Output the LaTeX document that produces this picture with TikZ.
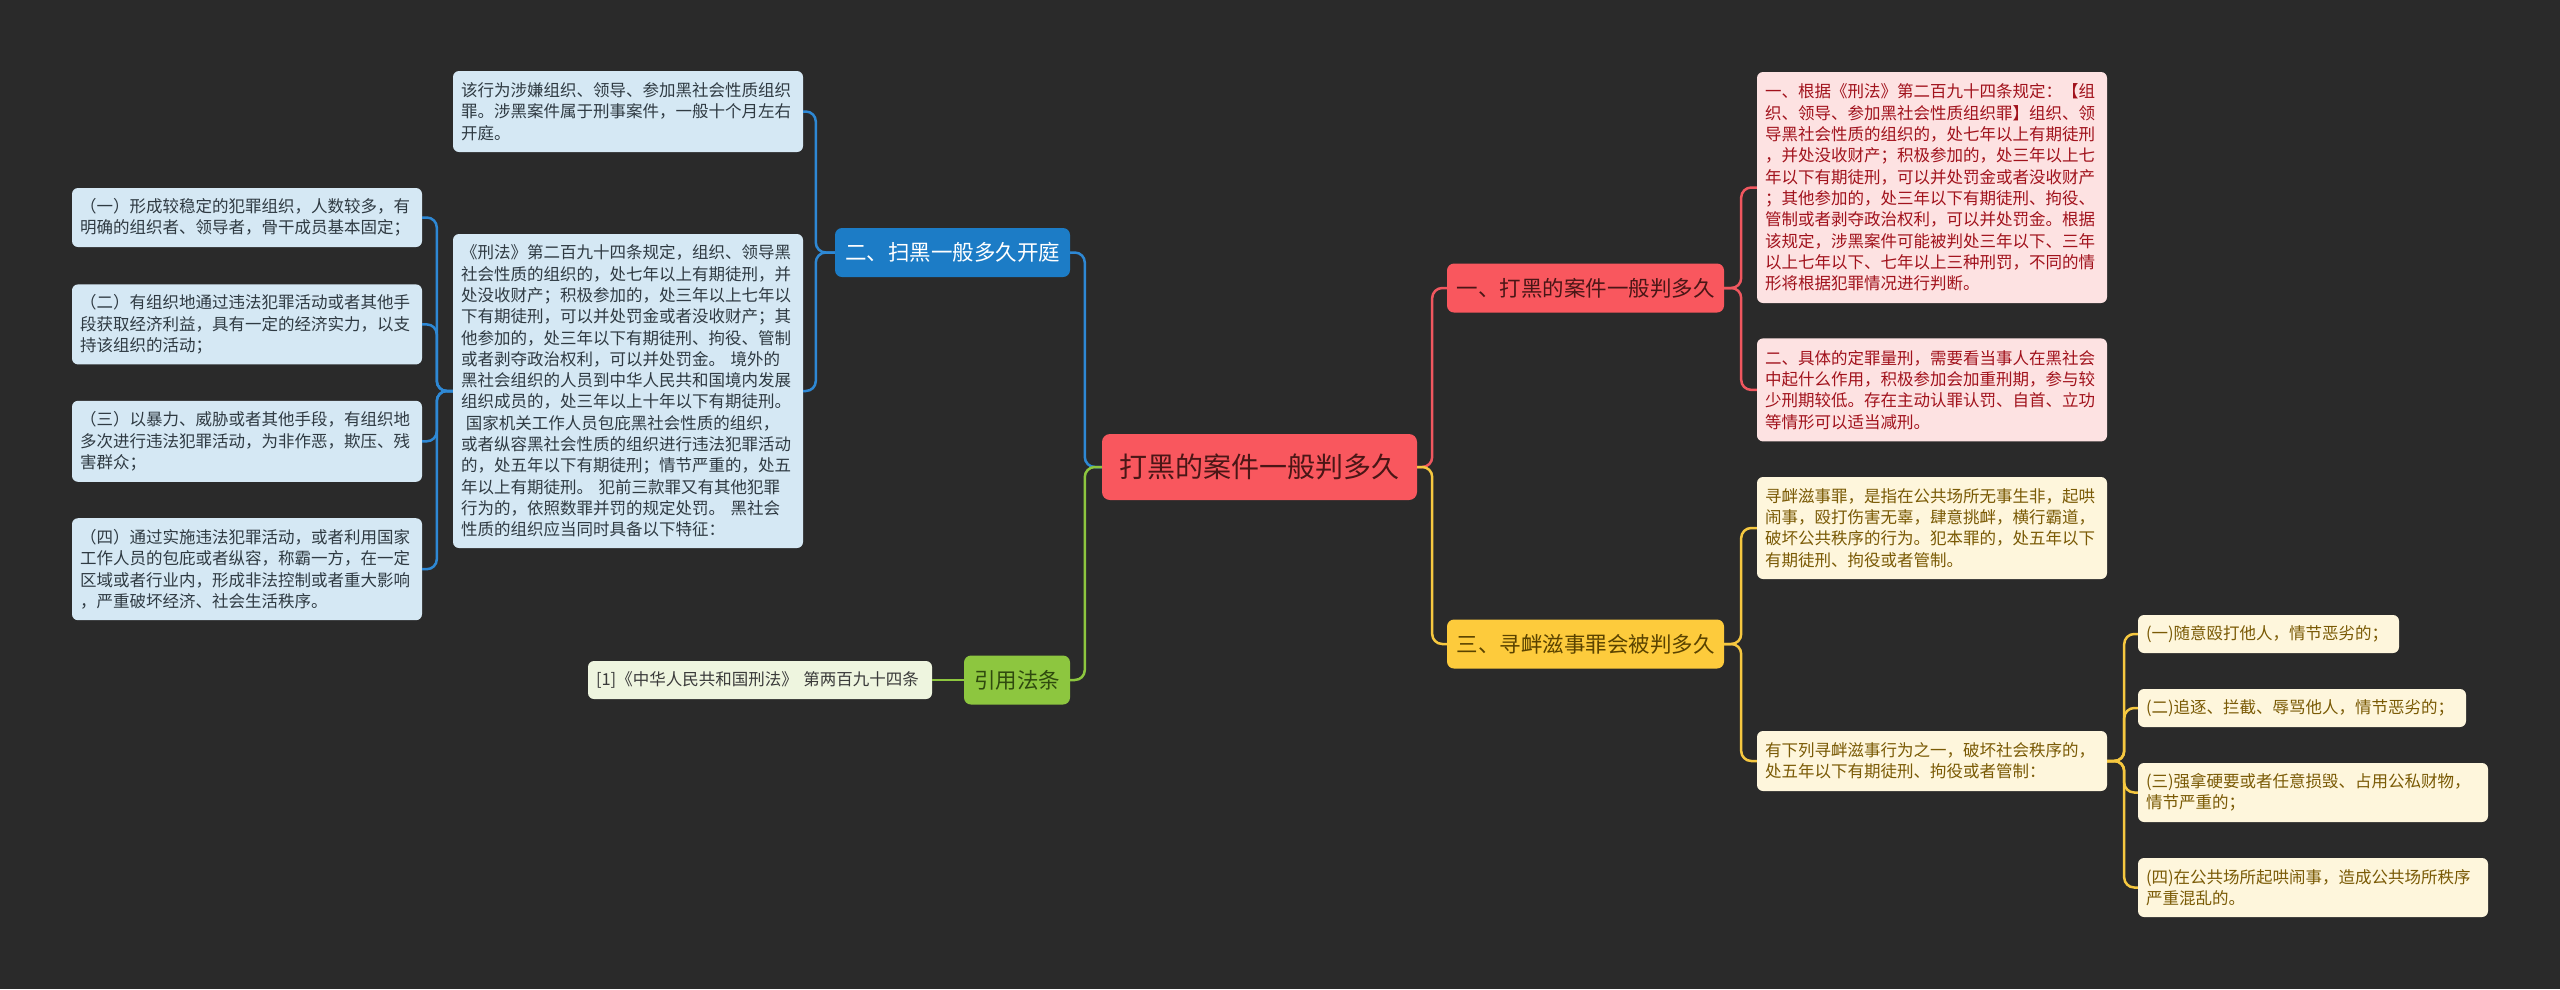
\documentclass[tikz,border=0pt]{standalone}
\usepackage{fontspec}
\setmainfont{Noto Sans CJK SC}
\usepackage{tikz}
\usetikzlibrary{positioning}
\definecolor{bgdark}{HTML}{2A2A2A}
\definecolor{rootred}{HTML}{F9575E}
\definecolor{rootink}{HTML}{4A1616}
\definecolor{pinkleaf}{HTML}{FDE2E2}
\definecolor{pinkink}{HTML}{A1121C}
\definecolor{bluebranch}{HTML}{1C7CC6}
\definecolor{blueleaf}{HTML}{D5E8F4}
\definecolor{blueink}{HTML}{2F3A42}
\definecolor{greenbranch}{HTML}{8DC63F}
\definecolor{greenink}{HTML}{2F4A0E}
\definecolor{citeleaf}{HTML}{EEF5DF}
\definecolor{citeink}{HTML}{3A3A3A}
\definecolor{yellowbranch}{HTML}{FDCB3C}
\definecolor{yellowink}{HTML}{5A4300}
\definecolor{yellowleaf}{HTML}{FEF6DC}
\definecolor{yleafink}{HTML}{7A5A05}
\definecolor{bluelink}{HTML}{2E88D4}
\definecolor{greenlink}{HTML}{8DC63F}
\definecolor{redlink}{HTML}{F0575F}
\definecolor{yellowlink}{HTML}{F6C840}
\tikzset{
  rootbox/.style={fill=rootred, text=rootink, rounded corners=8pt, inner sep=0pt,
    minimum width=315pt, minimum height=66pt, font=\fontsize{28}{34}\selectfont},
  branch/.style={rounded corners=7pt, inner sep=0pt, minimum height=49pt,
    font=\fontsize{21.5}{26}\selectfont},
  leaf/.style={rounded corners=6pt, align=left, inner xsep=8pt, inner ysep=8pt,
    text width=334pt, font=\fontsize{16.5}{21.3}\selectfont},
  blueleafbox/.style={leaf, fill=blueleaf, text=blueink},
  pinkleafbox/.style={leaf, fill=pinkleaf, text=pinkink},
  yellowleafbox/.style={leaf, fill=yellowleaf, text=yleafink},
  link/.style={line width=2.5pt, rounded corners=10pt},
}

\begin{document}
\begin{tikzpicture}[x=1pt, y=-1pt]

\fill[bgdark] (0,0) rectangle (2560,989);
\useasboundingbox (0,0) rectangle (2560,989);

%% centre and main branches
\node[rootbox] (root) at (1259.5,467) {打黑的案件一般判多久};
\node[branch, fill=bluebranch, text=white, minimum width=235pt] (sao) at (952.5,252.5) {二、扫黑一般多久开庭};
\node[branch, fill=greenbranch, text=greenink, minimum width=106pt] (yin) at (1017,680) {引用法条};
\node[branch, fill=rootred, text=rootink, minimum width=277pt] (da) at (1585.5,288) {一、打黑的案件一般判多久};
\node[branch, fill=yellowbranch, text=yellowink, minimum width=277pt] (xun) at (1585.5,644) {三、寻衅滋事罪会被判多久};

%% left side: 扫黑开庭
\node[blueleafbox, minimum height=81pt] (sao1) at (628,111.5) {该行为涉嫌组织、领导、参加黑社会性质组织\\罪。涉黑案件属于刑事案件，一般十个月左右\\开庭。};
\node[blueleafbox, minimum height=314pt] (sao2) at (628,391) {《刑法》第二百九十四条规定，组织、领导黑\\社会性质的组织的，处七年以上有期徒刑，并\\处没收财产；积极参加的，处三年以上七年以\\下有期徒刑，可以并处罚金或者没收财产；其\\他参加的，处三年以下有期徒刑、拘役、管制\\或者剥夺政治权利，可以并处罚金。 境外的\\黑社会组织的人员到中华人民共和国境内发展\\组织成员的，处三年以上十年以下有期徒刑。\\\hspace*{0.3em}国家机关工作人员包庇黑社会性质的组织，\\或者纵容黑社会性质的组织进行违法犯罪活动\\的，处五年以下有期徒刑；情节严重的，处五\\年以上有期徒刑。 犯前三款罪又有其他犯罪\\行为的，依照数罪并罚的规定处罚。 黑社会\\性质的组织应当同时具备以下特征：};

\node[blueleafbox, minimum height=59pt] (te1) at (247,217.5) {（一）形成较稳定的犯罪组织，人数较多，有\\明确的组织者、领导者，骨干成员基本固定；};
\node[blueleafbox, minimum height=80pt, below=37pt of te1] (te2) {（二）有组织地通过违法犯罪活动或者其他手\\段获取经济利益，具有一定的经济实力，以支\\持该组织的活动；};
\node[blueleafbox, minimum height=81pt, below=36pt of te2] (te3) {（三）以暴力、威胁或者其他手段，有组织地\\多次进行违法犯罪活动，为非作恶，欺压、残\\害群众；};
\node[blueleafbox, minimum height=102pt, below=36pt of te3] (te4) {（四）通过实施违法犯罪活动，或者利用国家\\工作人员的包庇或者纵容，称霸一方，在一定\\区域或者行业内，形成非法控制或者重大影响\\，严重破坏经济、社会生活秩序。};

%% left side: 引用法条
\node[leaf, fill=citeleaf, text=citeink, text width=328pt, minimum height=38pt] (yin1) at (760,680) {[1]《中华人民共和国刑法》 第两百九十四条};

%% right side: 打黑判多久
\node[pinkleafbox, minimum height=231pt] (da1) at (1932,187.5) {一、根据《刑法》第二百九十四条规定：【组\\织、领导、参加黑社会性质组织罪】组织、领\\导黑社会性质的组织的，处七年以上有期徒刑\\，并处没收财产；积极参加的，处三年以上七\\年以下有期徒刑，可以并处罚金或者没收财产\\；其他参加的，处三年以下有期徒刑、拘役、\\管制或者剥夺政治权利，可以并处罚金。根据\\该规定，涉黑案件可能被判处三年以下、三年\\以上七年以下、七年以上三种刑罚，不同的情\\形将根据犯罪情况进行判断。};
\node[pinkleafbox, minimum height=103pt, below=35pt of da1] (da2) {二、具体的定罪量刑，需要看当事人在黑社会\\中起什么作用，积极参加会加重刑期，参与较\\少刑期较低。存在主动认罪认罚、自首、立功\\等情形可以适当减刑。};

%% right side: 寻衅滋事
\node[yellowleafbox, minimum height=102pt] (xun1) at (1932,528) {寻衅滋事罪，是指在公共场所无事生非，起哄\\闹事，殴打伤害无辜，肆意挑衅，横行霸道，\\破坏公共秩序的行为。犯本罪的，处五年以下\\有期徒刑、拘役或者管制。};
\node[yellowleafbox, minimum height=60pt] (xun2) at (1932,761) {有下列寻衅滋事行为之一，破坏社会秩序的，\\处五年以下有期徒刑、拘役或者管制：};

\node[yellowleafbox, text width=245pt, minimum height=38pt] (xs1) at (2268.5,634) {(一)随意殴打他人，情节恶劣的；};
\node[yellowleafbox, text width=312pt, minimum height=38pt] (xs2) at (2302,708) {(二)追逐、拦截、辱骂他人，情节恶劣的；};
\node[yellowleafbox, minimum height=59pt] (xs3) at (2313,792.5) {(三)强拿硬要或者任意损毁、占用公私财物，\\情节严重的；};
\node[yellowleafbox, minimum height=59pt] (xs4) at (2313,887.5) {(四)在公共场所起哄闹事，造成公共场所秩序\\严重混乱的。};

%% connectors
\draw[link, draw=bluelink] (root.west) -- ++(-17,0) |- (sao.east);
\draw[link, draw=greenlink] (root.west) -- ++(-17,0) |- (yin.east);
\draw[link, draw=redlink] (root.east) -- ++(15,0) |- (da.west);
\draw[link, draw=yellowlink] (root.east) -- ++(15,0) |- (xun.west);

\foreach \n in {sao1,sao2}
  \draw[link, draw=bluelink] (sao.west) -- ++(-19,0) |- (\n.east);
\foreach \n in {te1,te2,te3,te4}
  \draw[link, draw=bluelink] (sao2.west) -- ++(-16,0) |- (\n.east);
\draw[link, draw=greenlink] (yin.west) -- (yin1.east);

\foreach \n in {da1,da2}
  \draw[link, draw=redlink] (da.east) -- ++(17,0) |- (\n.west);
\foreach \n in {xun1,xun2}
  \draw[link, draw=yellowlink] (xun.east) -- ++(17,0) |- (\n.west);
\foreach \n in {xs1,xs2,xs3,xs4}
  \draw[link, draw=yellowlink] (xun2.east) -- ++(17,0) |- (\n.west);

\end{tikzpicture}
\end{document}
